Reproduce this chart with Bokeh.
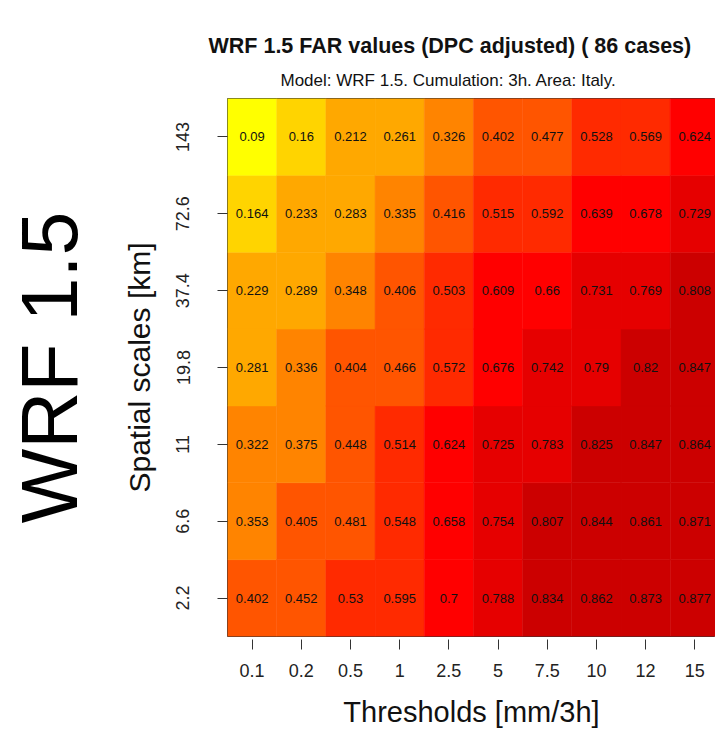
from bokeh.plotting import figure
from bokeh.models import (LinearColorMapper, FixedTicker, ColumnDataSource, Range1d, Title,
                          LinearAxis)
from bokeh.core.properties import value
from bokeh.embed import file_html
from bokeh.resources import INLINE

# ---- data ----
thresholds = ["0.1", "0.2", "0.5", "1", "2.5", "5", "7.5", "10", "12", "15"]
scales = ["2.2", "6.6", "11", "19.8", "37.4", "72.6", "143"]  # bottom -> top

far_2_2 = [0.402, 0.452, 0.53, 0.595, 0.6996, 0.788, 0.834, 0.862, 0.873, 0.877]
far_6_6 = [0.353, 0.405, 0.481, 0.548, 0.658, 0.754, 0.807, 0.844, 0.861, 0.871]
far_11 = [0.322, 0.375, 0.448, 0.514, 0.624, 0.725, 0.783, 0.825, 0.847, 0.864]
far_19_8 = [0.281, 0.336, 0.404, 0.466, 0.572, 0.676, 0.742, 0.79, 0.82, 0.847]
far_37_4 = [0.229, 0.289, 0.348, 0.406, 0.503, 0.609, 0.66, 0.731, 0.769, 0.808]
far_72_6 = [0.164, 0.233, 0.283, 0.335, 0.416, 0.515, 0.592, 0.639, 0.678, 0.729]
far_143 = [0.09, 0.16, 0.212, 0.261, 0.326, 0.402, 0.477, 0.528, 0.569, 0.624]

palette = ["#FFFF00", "#FFD400", "#FFA800", "#FF8400", "#FF5500",
           "#FF2A00", "#FF0000", "#E60000", "#CC0000", "#B30000"]

title_text = "WRF 1.5 FAR values (DPC adjusted) (  86 cases)"
subtitle_text = "Model: WRF 1.5. Cumulation: 3h. Area: Italy."
side_text = "WRF 1.5"

rows = [far_2_2, far_6_6, far_11, far_19_8, far_37_4, far_72_6, far_143]
xs, ys, vs, labels = [], [], [], []
for j, row in enumerate(rows):
    for i, v in enumerate(row):
        xs.append(i)
        ys.append(j)
        vs.append(v)
        labels.append(f"{round(v, 3):g}")
src = ColumnDataSource(dict(x=xs, y=ys, v=vs, label=labels))

mapper = LinearColorMapper(palette=palette, low=0.0, high=1.0)

FONT = "Liberation Sans"

p = figure(width=715, height=731, output_backend="svg", toolbar_location=None, tools="",
           x_range=Range1d(-0.5, 9.421), y_range=Range1d(-0.5, 6.5),
           min_border_left=227, min_border_right=0, min_border_top=98, min_border_bottom=95)
p.background_fill_color = "white"
p.border_fill_color = "white"
p.outline_line_color = "#333333"
p.outline_line_width = 1
p.xgrid.visible = False
p.ygrid.visible = False

p.rect(x="x", y="y", width=1, height=1, source=src,
       fill_color={"field": "v", "transform": mapper},
       line_color={"field": "v", "transform": mapper}, line_width=0.5)
p.text(x="x", y="y", text="label", source=src, text_align="center", text_baseline="middle",
       text_font=value(FONT), text_font_size="13px", text_color="#111111")

# axes
xa = p.xaxis[0]
xa.ticker = FixedTicker(ticks=list(range(len(thresholds))))
xa.major_label_overrides = {i: t for i, t in enumerate(thresholds)}
xa.axis_line_color = None
xa.minor_tick_line_color = None
xa.major_tick_in = -3
xa.major_tick_out = 13
xa.major_tick_line_color = "#333333"
xa.major_label_standoff = 14
xa.major_label_text_font = FONT
xa.major_label_text_font_size = "18px"
xa.major_label_text_color = "#222222"
xa.axis_label = "Thresholds [mm/3h]"
xa.axis_label_text_font = FONT
xa.axis_label_text_font_size = "29px"
xa.axis_label_text_font_style = "normal"
xa.axis_label_text_color = "#111111"
xa.axis_label_standoff = 16

ya = p.yaxis[0]
ya.ticker = FixedTicker(ticks=list(range(len(scales))))
ya.major_label_overrides = {i: s for i, s in enumerate(scales)}
ya.axis_line_color = None
ya.minor_tick_line_color = None
ya.major_tick_in = 0
ya.major_tick_out = 10
ya.major_tick_line_color = "#333333"
ya.major_label_orientation = "vertical"
ya.major_label_standoff = 28
ya.major_label_text_font = FONT
ya.major_label_text_font_size = "18px"
ya.major_label_text_color = "#222222"
ya.axis_label = "Spatial scales [km]"
ya.axis_label_text_font = FONT
ya.axis_label_text_font_size = "30px"
ya.axis_label_text_font_style = "normal"
ya.axis_label_text_color = "#111111"
ya.axis_label_standoff = 18

# big side label: an extra, tick-less axis on the left carrying only its label
side_axis = LinearAxis(ticker=FixedTicker(ticks=[]), axis_line_color=None,
                       major_tick_in=0, major_tick_out=0, minor_tick_in=0, minor_tick_out=0,
                       major_tick_line_color=None, minor_tick_line_color=None,
                       major_label_standoff=0, major_label_text_font_size="0px",
                       axis_label=side_text, axis_label_standoff=26,
                       axis_label_text_font=FONT, axis_label_text_font_size="79px",
                       axis_label_text_font_style="normal", axis_label_text_color="#000000")
p.add_layout(side_axis, "left")

# titles: main title (outer), subtitle (next to the frame)
p.title.text = title_text
p.title.align = "left"
p.title.offset = -19
p.title.standoff = 6
p.title.text_font = FONT
p.title.text_font_size = "21.5px"
p.title.text_font_style = "bold"
p.title.text_color = "#111111"

p.add_layout(Title(text=subtitle_text, align="left", offset=53, standoff=17, text_font=FONT,
                   text_font_size="17px", text_font_style="normal", text_color="#111111"),
             "above")

open("out.html", "w").write(file_html(p, INLINE))
